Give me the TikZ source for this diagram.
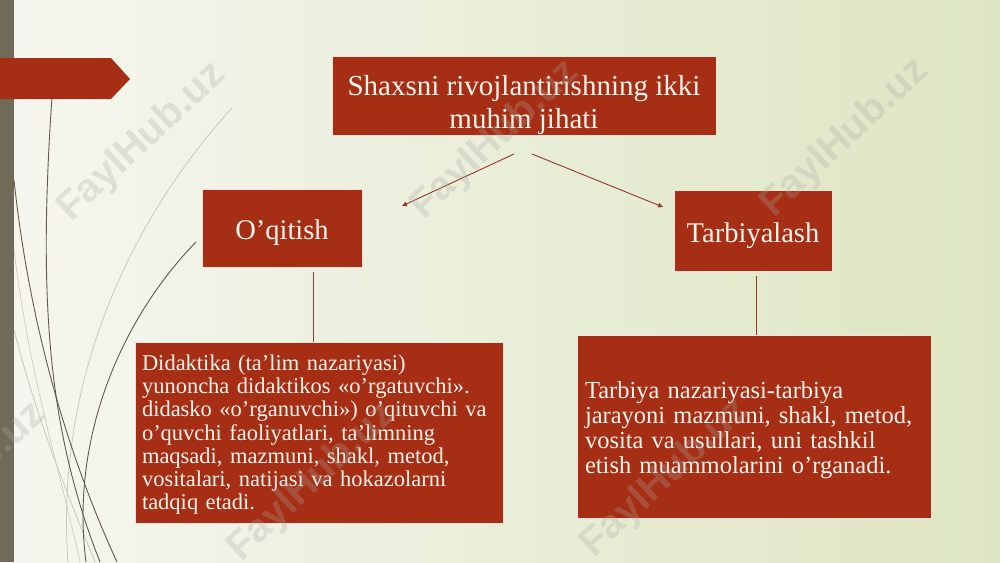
\documentclass[tikz,border=0pt]{standalone}
\usepackage{fontspec}
\setmainfont{Liberation Serif}
\newfontfamily\wmfont{Liberation Sans}
\usetikzlibrary{arrows.meta}
\definecolor{boxred}{RGB}{165,46,20}
\definecolor{txtcream}{RGB}{250,244,236}
\definecolor{barolive}{RGB}{112,107,88}
\definecolor{bgleft}{RGB}{246,246,240}
\definecolor{bgright}{RGB}{221,230,194}
\definecolor{linered}{RGB}{150,55,40}
\definecolor{curvedark}{RGB}{95,90,75}
\definecolor{curvelight}{RGB}{200,200,190}
\definecolor{wmgray}{RGB}{170,170,165}
\begin{document}
\begin{tikzpicture}[x=1pt,y=-1pt,
  redbox/.style={draw=white!85!boxred, line width=0.8pt, fill=boxred, text=txtcream, inner sep=0pt, outer sep=0pt},
  conn/.style={draw=linered, line width=0.9pt},
  arr/.style={conn, -{Triangle[length=5pt,width=4.5pt]}},
  darkcurve/.style={draw=curvedark, line width=0.9pt},
  lightcurve/.style={draw=curvelight, line width=0.8pt},
  wm/.style={font=\wmfont\bfseries\fontsize{40}{40}\selectfont, text=wmgray, opacity=0.28, rotate=43}]
\useasboundingbox (0,0) rectangle (1000,562);
% background
\shade[left color=bgleft, right color=bgright] (0,0) rectangle (1000,562);
% decorative curves
\draw[lightcurve] (232,108) .. controls (130,220) and (55,380) .. (68,562);
\draw[lightcurve] (14,330) .. controls (40,430) and (70,500) .. (95,562);
\draw[lightcurve, line width=0.6pt] (14,250) .. controls (30,380) and (60,470) .. (80,562);
\draw[darkcurve] (52,97) .. controls (38,300) and (48,430) .. (100,562);
\draw[darkcurve] (14,180) .. controls (30,330) and (70,460) .. (117,562);
\draw[darkcurve] (196,242) .. controls (120,320) and (70,440) .. (86,562);
% left bar and red arrow
\fill[barolive] (0,0) rectangle (14,562);
\fill[boxred] (0,58) -- (111,58) -- (130,79) -- (111,99) -- (0,99) -- cycle;
% boxes
\node[redbox, minimum width=384pt, minimum height=75pt, align=center,
  font=\fontsize{29}{33}\selectfont] (top) at (524,95.5)
  {\rule{0pt}{40pt}Shaxsni rivojlantirishning ikki\\muhim jihati};
\node[redbox, minimum width=160pt, minimum height=78pt, text height=29.5pt, text depth=6.2pt,
  font=\fontsize{28.5}{30}\selectfont] (oq) at (282,228) {O’qitish};
\node[redbox, minimum width=158pt, minimum height=81pt, text height=29.5pt, text depth=6.2pt,
  font=\fontsize{28.5}{30}\selectfont] (tar) at (753,230.5) {Tarbiyalash};
\node[redbox, minimum width=368pt, minimum height=181pt, text width=354pt, align=left,
  font=\fontsize{22.5}{23.2}\selectfont] (did) at (319,432.5)
  {\rule{0pt}{20pt}Didaktika (ta’lim nazariyasi)\\yunoncha didaktikos «o’rgatuvchi».\\didasko «o’rganuvchi») o’qituvchi va\\o’quvchi faoliyatlari, ta’limning\\maqsadi, mazmuni, shakl, metod,\\vositalari, natijasi va hokazolarni\\tadqiq etadi.};
\node[redbox, minimum width=354pt, minimum height=183pt, text width=338pt, align=left,
  font=\fontsize{24.5}{25}\selectfont] (tn) at (754,426.5)
  {\rule{0pt}{25pt}Tarbiya nazariyasi-tarbiya\\jarayoni mazmuni, shakl, metod,\\vosita va usullari, uni tashkil\\etish muammolarini o’rganadi.};
% connectors
\coordinate (a1) at (514,154);
\coordinate (a1e) at (402,206);
\coordinate (a2) at (532,154);
\coordinate (a2e) at (663,207);
\draw[arr] (a1) -- (a1e);
\draw[arr] (a2) -- (a2e);
\coordinate (v1) at (313,272);
\coordinate (v2) at (756,276);
\draw[conn] (v1) -- (v1 |- did.north);
\draw[conn] (v2) -- (v2 |- tn.north);
% watermarks
\node[wm] (w1) at (142,142) {FaylHub.uz};
\node[wm] (w2) at (495,140) {FaylHub.uz};
\node[wm] (w3) at (845,138) {FaylHub.uz};
\node[wm] (w4) at (-38,482) {FaylHub.uz};
\node[wm] (w5) at (312,482) {FaylHub.uz};
\node[wm] (w6) at (665,478) {FaylHub.uz};
\end{tikzpicture}
\end{document}
